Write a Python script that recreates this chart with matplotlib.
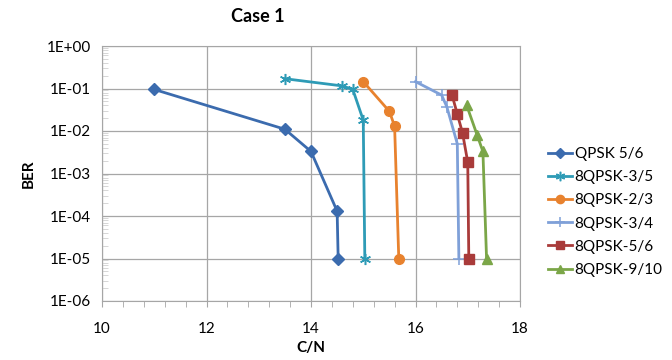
import matplotlib.pyplot as plt
from matplotlib.ticker import FixedLocator, LogLocator, NullFormatter, MultipleLocator

plt.rcParams['font.family'] = ['Lato', 'DejaVu Sans']

labels = ['QPSK 5/6', '8QPSK-3/5', '8QPSK-2/3', '8QPSK-3/4', '8QPSK-5/6', '8QPSK-9/10']
cn_values = [
    [11.0, 13.5, 14.0, 14.5, 14.52],
    [13.5, 14.6, 14.8, 15.0, 15.03],
    [15.0, 15.5, 15.6, 15.68],
    [16.0, 16.5, 16.6, 16.8, 16.83],
    [16.7, 16.8, 16.9, 17.0, 17.02],
    [16.98, 17.18, 17.29, 17.36],
]
ber_values = [
    [9.5e-2, 1.1e-2, 3.3e-3, 1.3e-4, 1e-5],
    [1.7e-1, 1.15e-1, 9.5e-2, 1.8e-2, 1e-5],
    [1.45e-1, 2.9e-2, 1.3e-2, 1e-5],
    [1.45e-1, 7e-2, 3.7e-2, 5e-3, 1e-5],
    [7e-2, 2.5e-2, 9e-3, 1.85e-3, 1e-5],
    [4e-2, 8e-3, 3.3e-3, 1e-5],
]
colors = ['#3B6BAE', '#2E9BB6', '#E8822E', '#7FA0D8', '#A93B3A', '#7BA648']
markers = ['D', (6, 2, 0), 'o', '+', 's', '^']
msizes = [6, 8, 7, 9, 7, 7]
y_ticks = [1e0, 1e-1, 1e-2, 1e-3, 1e-4, 1e-5, 1e-6]
y_tick_labels = ['1E+00', '1E-01', '1E-02', '1E-03', '1E-04', '1E-05', '1E-06']
x_ticks = [10, 12, 14, 16, 18]

fig = plt.figure(figsize=(6.72, 3.6), dpi=100)
ax = fig.add_axes([102 / 672, 1 - 301 / 360, 418 / 672, 255 / 360])

for cn, ber, c, m, ms, lab in zip(cn_values, ber_values, colors, markers, msizes, labels):
    ax.plot(cn, ber, color=c, marker=m, markersize=ms, linewidth=2,
            markeredgewidth=1.1 if m in ('+', (6, 2, 0)) else 1, label=lab)

ax.set_yscale('log')
ax.set_xlim(10, 18)
ax.set_ylim(1e-6, 1e0)
ax.yaxis.set_major_locator(FixedLocator(y_ticks))
ax.set_yticklabels(y_tick_labels)
ax.yaxis.set_minor_locator(LogLocator(base=10, subs=range(2, 10), numticks=20))
ax.yaxis.set_minor_formatter(NullFormatter())
ax.set_xticks(x_ticks)
ax.xaxis.set_minor_locator(MultipleLocator(0.4))

ax.grid(True, which='major', color='#A6A6A6', linewidth=0.9)
ax.set_axisbelow(True)
for s in ax.spines.values():
    s.set_color('#A6A6A6')
ax.tick_params(axis='both', which='major', length=0, labelsize=11, pad=8)
ax.tick_params(axis='x', which='major', length=4, color='#A6A6A6', direction='out', pad=11)
ax.tick_params(axis='x', which='minor', length=4, color='#A6A6A6', direction='out')
ax.tick_params(axis='y', which='minor', length=4, color='#D0D0D0', direction='in')

ax.set_xlabel('C/N', fontsize=11, fontweight='bold', labelpad=4)
ax.set_ylabel('BER', fontsize=11, fontweight='bold', labelpad=8)
fig.text(258 / 672, 1 - 16 / 360, 'Case 1', ha='center', va='center', fontsize=13, fontweight='bold')

fig.legend(loc='center left', bbox_to_anchor=(548 / 672, 1 - 212 / 360), frameon=False,
           fontsize=11, handlelength=1.6, handletextpad=0.15, labelspacing=0.6,
           borderaxespad=0, borderpad=0, markerscale=0.85)

fig.savefig('out.png', dpi=100)
